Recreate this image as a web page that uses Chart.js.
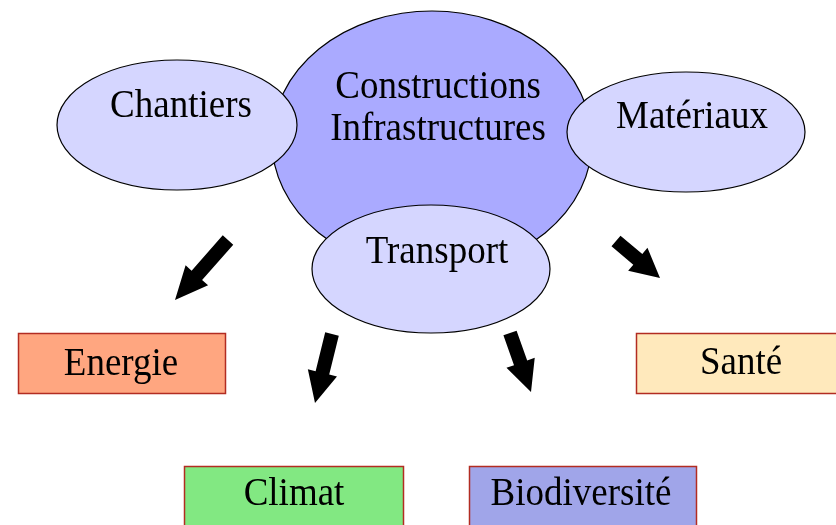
<!DOCTYPE html>
<html>
<head>
<meta charset="utf-8">
<script src="https://cdn.jsdelivr.net/npm/chart.js@4.4.0/dist/chart.umd.min.js"></script>
<style>
  html, body { margin: 0; padding: 0; background: #fff; }
  canvas { display: block; }
</style>
</head>
<body>
<canvas id="diagram" width="836" height="525"></canvas>
<script>
// Noeuds du schéma (ellipses) et domaines d'impact (rectangles)
const sourceLabels = [['Constructions', 'Infrastructures'], ['Chantiers'], ['Matériaux'], ['Transport']];
const impactLabels = ['Energie', 'Santé', 'Climat', 'Biodiversité'];

// Mise en page, en unités du repère (0..836 x 0..525)
const ellipseLayout = [
    { cx: 432, cy: 141, rx: 160, ry: 130, fill: '#aaaaff', textY: [98, 140] },
    { cx: 177, cy: 125, rx: 120, ry: 65, fill: '#d5d6ff', textY: [117] },
    { cx: 686, cy: 132, rx: 119, ry: 60, fill: '#d5d6ff', textY: [128] },
    { cx: 431, cy: 269, rx: 119, ry: 64, fill: '#d5d6ff', textY: [263] }
];
const textX = [438, 181, 692, 437];

const boxLayout = [
    { x0: 18, x1: 225, y0: 333, y1: 393, fill: '#ffa680', textX: 121, textY: 375 },
    { x0: 636, x1: 840, y0: 333, y1: 393, fill: '#ffe9bc', textX: 741, textY: 374 },
    { x0: 184, x1: 403, y0: 466, y1: 530, fill: '#82e882', textX: 294, textY: 505 },
    { x0: 469, x1: 696, y0: 466, y1: 530, fill: '#a0a5e9', textX: 581, textY: 505 }
];

// Flèches : queue -> pointe
const arrowLayout = [
    { from: [228, 240], to: [175, 300], head: 33 },
    { from: [616, 241], to: [660, 278], head: 29 },
    { from: [332, 334], to: [315, 403], head: 31 },
    { from: [510, 333], to: [531, 392], head: 31 }
];

const FONT = '37px "Liberation Serif", "Times New Roman", serif';

function drawArrow(ctx, p0, p1, headLen) {
    const dx = p1[0] - p0[0], dy = p1[1] - p0[1];
    const len = Math.hypot(dx, dy);
    const ux = dx / len, uy = dy / len;
    const nx = -uy, ny = ux;
    const sw = 7, hw = 15;
    const bx = p1[0] - ux * headLen, by = p1[1] - uy * headLen;
    ctx.beginPath();
    ctx.moveTo(p0[0] + nx * sw, p0[1] + ny * sw);
    ctx.lineTo(bx + nx * sw, by + ny * sw);
    ctx.lineTo(bx + nx * hw, by + ny * hw);
    ctx.lineTo(p1[0], p1[1]);
    ctx.lineTo(bx - nx * hw, by - ny * hw);
    ctx.lineTo(bx - nx * sw, by - ny * sw);
    ctx.lineTo(p0[0] - nx * sw, p0[1] - ny * sw);
    ctx.closePath();
    ctx.fillStyle = '#000';
    ctx.fill();
}

// texte légèrement étiré en hauteur comme dans l'original
function drawLabel(ctx, text, x, y) {
    ctx.save();
    ctx.translate(x, y);
    ctx.scale(1, 1.1);
    ctx.fillText(text, 0, 0);
    ctx.restore();
}

const diagramPlugin = {
    id: 'diagram',
    afterDatasetsDraw(chart) {
        const { ctx, scales: { x, y } } = chart;
        const px = v => x.getPixelForValue(v);
        const py = v => y.getPixelForValue(v);
        ctx.save();

        // ellipses
        ellipseLayout.forEach(e => {
            const rx = Math.abs(px(e.cx + e.rx) - px(e.cx));
            const ry = Math.abs(py(e.cy + e.ry) - py(e.cy));
            ctx.beginPath();
            ctx.ellipse(px(e.cx), py(e.cy), rx, ry, 0, 0, Math.PI * 2);
            ctx.fillStyle = e.fill;
            ctx.fill();
            ctx.lineWidth = 1.2;
            ctx.strokeStyle = '#000';
            ctx.stroke();
        });
        ctx.font = FONT;
        ctx.fillStyle = '#000';
        ctx.textAlign = 'center';
        ctx.textBaseline = 'alphabetic';
        sourceLabels.forEach((lines, i) => {
            lines.forEach((t, j) => drawLabel(ctx, t, px(textX[i]), py(ellipseLayout[i].textY[j])));
        });

        // flèches
        arrowLayout.forEach(a => {
            drawArrow(ctx, [px(a.from[0]), py(a.from[1])], [px(a.to[0]), py(a.to[1])], a.head);
        });

        // rectangles
        boxLayout.forEach((b, i) => {
            const x0 = px(b.x0), y0 = py(b.y0);
            const w = px(b.x1) - x0, h = py(b.y1) - y0;
            ctx.fillStyle = b.fill;
            ctx.fillRect(x0, y0, w, h);
            ctx.lineWidth = 1.5;
            ctx.strokeStyle = '#b22c22';
            ctx.strokeRect(x0 + 0.5, y0 + 0.5, w, h);
            ctx.fillStyle = '#000';
            drawLabel(ctx, impactLabels[i], px(b.textX), py(b.textY));
        });
        ctx.restore();
    }
};

new Chart(document.getElementById('diagram'), {
    type: 'scatter',
    data: {
        datasets: [{
            data: ellipseLayout.map(e => ({ x: e.cx, y: e.cy })),
            pointRadius: 0
        }]
    },
    options: {
        responsive: false,
        animation: false,
        layout: { padding: 0 },
        plugins: { legend: { display: false }, tooltip: { enabled: false } },
        scales: {
            x: { type: 'linear', min: 0, max: 836, display: false },
            y: { type: 'linear', min: 0, max: 525, reverse: true, display: false }
        }
    },
    plugins: [diagramPlugin]
});
</script>
</body>
</html>
